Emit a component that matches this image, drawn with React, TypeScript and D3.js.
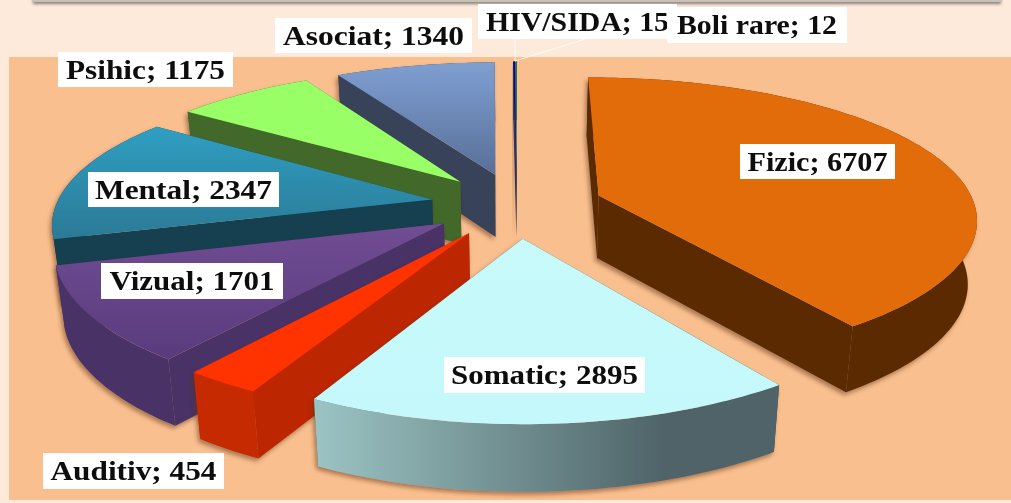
import React from 'react';
import * as d3 from 'd3';

const categories = ['Fizic', 'Somatic', 'Auditiv', 'Vizual', 'Mental', 'Psihic', 'Asociat', 'HIV/SIDA', 'Boli rare'];
const values = [6707, 2895, 454, 1701, 2347, 1175, 1340, 15, 12];

const topColors = ['#e26b0a', 'url(#topSomatic)', '#ff3300', 'url(#topVizual)', 'url(#topMental)', '#99ff66', 'url(#topAsociat)', '#0000a8', '#1f7a4a'];
const wallColors = ['#5c2c00', '#3f5256', '#bc2800', '#4a3266', '#123f50', '#43672a', '#374358', '#2b3560', '#2b3560'];
const outerColors = ['#5c2c00', 'url(#wallSomatic)', '#c62a00', '#4a3266', '#123f50', '#43672a', '#374358', '#2b3560', '#2b3560'];

// painter's order, back of the pie first
const drawOrder = [7, 8, 6, 5, 4, 3, 2, 1, 0];

// label boxes: left, top, right, bottom
const labelBoxes = [
  [740, 144, 895, 179],
  [444, 357, 645, 393],
  [43, 453, 224, 489],
  [101, 263, 283, 299],
  [88, 172, 279, 207],
  [58, 52, 233, 87],
  [275, 18, 472, 53],
  [478, 4, 677, 39],
  [667, 7, 847, 43],
];
const labelWidths = [140, 187, 166, 165, 177, 159, 181, 183, 160];

const cx = 517, cy = 205, rx = 376, ry = 141;
const perspX = 0.15, perspY = 0.17, explode = 0.23, depth = 63, shrink = 0.98;

const project = (u: number, v: number, low = false) => {
  const x = u * rx / (1 - perspX * v), y = v * ry / (1 - perspY * v);
  if (!low) return [cx + x, cy + y] as [number, number];
  return [cx + x * shrink, cy + y + depth * (1 + 0.06 * v)] as [number, number];
};

const line = d3.line();

export default function App() {
  const arcs = d3.pie<number>().sort(null).value(d => d)(values);

  const slices = drawOrder.map(i => {
    const a = arcs[i];
    const mid = (a.startAngle + a.endAngle) / 2;
    const ou = explode * Math.sin(mid), ov = -explode * Math.cos(mid);
    const n = Math.max(2, Math.ceil((a.endAngle - a.startAngle) / 0.02));
    const angles = d3.range(n + 1).map(k => a.startAngle + (a.endAngle - a.startAngle) * k / n);
    const rim = (low: boolean) => angles.map(t => project(ou + Math.sin(t), ov - Math.cos(t), low));
    const apex = (low: boolean) => project(ou, ov, low);
    const top = rim(false), bottom = rim(true);

    const walls = [
      { d: [apex(false), top[0], bottom[0], apex(true)], v: ov - Math.cos(a.startAngle) / 2, fill: wallColors[i] },
      { d: [apex(false), top[n], bottom[n], apex(true)], v: ov - Math.cos(a.endAngle) / 2, fill: wallColors[i] },
      { d: [...top, ...bottom.slice().reverse()], v: ov - Math.cos(mid), fill: outerColors[i] },
    ].sort((p, q) => p.v - q.v);

    return { i, walls, top: [apex(false), ...top] };
  });

  return (
    <svg width={1011} height={503} style={{ position: 'absolute', left: 0, top: 0 }}>
      <defs>
        <linearGradient id="topSomatic" x1="0" y1="0" x2="0" y2="1">
          <stop offset="0" stopColor="#c8fafb" />
          <stop offset="1" stopColor="#c4f8fa" />
        </linearGradient>
        <linearGradient id="wallSomatic" x1="0" y1="0" x2="1" y2="0">
          <stop offset="0" stopColor="#9cc4c4" />
          <stop offset="0.75" stopColor="#4f6468" />
          <stop offset="1" stopColor="#4f6468" />
        </linearGradient>
        <linearGradient id="topVizual" x1="0" y1="0" x2="0" y2="1">
          <stop offset="0" stopColor="#714d94" />
          <stop offset="1" stopColor="#593b7c" />
        </linearGradient>
        <linearGradient id="topMental" x1="0" y1="0" x2="0" y2="1">
          <stop offset="0" stopColor="#2f9fc2" />
          <stop offset="1" stopColor="#2b7a96" />
        </linearGradient>
        <linearGradient id="topAsociat" x1="0" y1="0" x2="0" y2="1">
          <stop offset="0" stopColor="#7f9fd2" />
          <stop offset="1" stopColor="#586f98" />
        </linearGradient>
        <filter id="wallShadow" x="-10%" y="-10%" width="120%" height="120%">
          <feDropShadow dx="-2" dy="3" stdDeviation="2" floodColor="#5c3210" floodOpacity="0.5" />
        </filter>
        <filter id="barShadow" x="-5%" y="-100%" width="110%" height="400%">
          <feDropShadow dx="0" dy="2" stdDeviation="1.5" floodColor="#555" floodOpacity="0.7" />
        </filter>
        <filter id="soft">
          <feGaussianBlur stdDeviation="0.4" />
        </filter>
      </defs>

      <rect width={1011} height={503} fill="#fdeada" />
      <rect x={9} y={57} width={1002} height={443} fill="#f9bf8f" />
      <rect x={33} y={-6} width={968} height={8} fill="#c9c0b8" filter="url(#barShadow)" />

      {slices.map(s => (
        <g key={categories[s.i]}>
          <g filter="url(#wallShadow)">
            {s.walls.map((w, k) => <path key={k} d={line(w.d) + 'Z'} fill={w.fill} />)}
          </g>
          <path d={line(s.top) + 'Z'} fill={topColors[s.i]} />
        </g>
      ))}

      <path d="M515 61L515 39M515 61L585 39" stroke="#fff" strokeOpacity={0.8} strokeWidth={1} fill="none" />

      {categories.map((c, i) => {
        const [x0, y0, x1, y1] = labelBoxes[i];
        return (
          <g key={c}>
            <rect x={x0} y={y0} width={x1 - x0} height={y1 - y0} fill="#fff" />
            <text
              x={(x0 + x1) / 2}
              y={(y0 + y1) / 2 + 9}
              textAnchor="middle"
              textLength={labelWidths[i]}
              lengthAdjust="spacingAndGlyphs"
              fontFamily="'Liberation Serif', serif"
              fontWeight="bold"
              fontSize={27}
              fill="#0a0a0a"
              filter="url(#soft)"
            >
              {c}; {values[i]}
            </text>
          </g>
        );
      })}
    </svg>
  );
}
